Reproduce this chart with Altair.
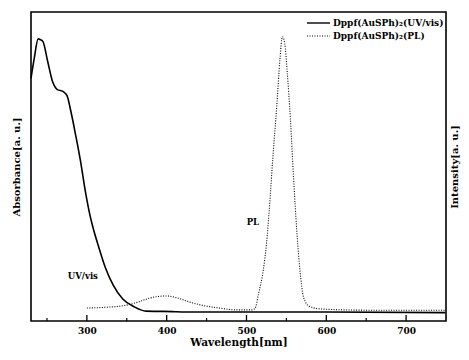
import altair as alt
import pandas as pd

# UV/vis absorbance (solid)
uv_wl = [230, 234, 239, 242, 245, 251, 257, 263, 270, 275, 280, 286, 292, 298, 304, 307,
         315, 323, 333, 345, 360, 374, 397, 437, 500, 600, 749]
uv_val = [0.785, 0.849, 0.913, 0.910, 0.904, 0.839, 0.775, 0.749, 0.743, 0.730, 0.678, 0.601,
          0.518, 0.421, 0.341, 0.309, 0.238, 0.174, 0.116, 0.071, 0.045, 0.032, 0.031, 0.029,
          0.029, 0.029, 0.027]

# PL intensity (dotted)
pl_wl = [300, 327, 347, 364, 376, 388, 399, 413, 429, 446, 466, 487, 507, 511, 515, 521, 525,
         529, 533, 538, 542, 545, 548, 551, 555, 559, 563, 567, 571.5, 578.5, 593, 650, 750]
pl_val = [0.042, 0.045, 0.050, 0.061, 0.072, 0.079, 0.081, 0.075, 0.061, 0.050, 0.042, 0.036,
          0.036, 0.042, 0.087, 0.164, 0.248, 0.376, 0.527, 0.698, 0.849, 0.920, 0.897, 0.807,
          0.656, 0.463, 0.293, 0.164, 0.077, 0.048, 0.039, 0.035, 0.035]

major_ticks = [300, 400, 500, 600, 700]
minor_ticks = [250, 350, 450, 550, 650]
legend_labels = ["Dppf(AuSPh)\u2082(UV/vis)", "Dppf(AuSPh)\u2082(PL)"]
annot_labels = ["UV/vis", "PL"]
annot_wl = [295, 508]
annot_val = [0.146, 0.320]

W, H = 415, 309
FONT = "DejaVu Serif"

uv = pd.DataFrame({"wl": uv_wl, "v": uv_val})
pl = pd.DataFrame({"wl": pl_wl, "v": pl_val})

xs = alt.Scale(domain=[230, 750], nice=False, zero=False)
ys = alt.Scale(domain=[0, 1], nice=False)

x_axis = alt.Axis(values=major_ticks, ticks=False, domain=False, grid=False, labelFont=FONT,
                  labelFontWeight="bold", labelFontSize=9, labelPadding=5, title="Wavelength[nm]",
                  titleFont=FONT, titleFontWeight="bold", titleFontSize=10.5, titlePadding=2,
                  labelColor="black", titleColor="black")

X = alt.X("wl:Q", scale=xs, axis=x_axis)

uv_line = alt.Chart(uv).mark_line(color="black", strokeWidth=1.6, interpolate="monotone").encode(
    x=X,
    y=alt.Y("v:Q", scale=ys, axis=alt.Axis(labels=False, ticks=False, domain=False, grid=False,
                                            title="Absorbance[a. u.]", titleFont=FONT,
                                            titleFontWeight="bold", titleFontSize=10,
                                            titlePadding=10, titleColor="black")),
)

pl_line = alt.Chart(pl).mark_line(color="black", strokeWidth=1.1, strokeDash=[1, 1.5],
                                  interpolate="monotone").encode(
    x=X,
    y=alt.Y("v:Q", scale=ys, axis=alt.Axis(orient="right", labels=False, ticks=False, domain=False,
                                            grid=False, title="Intensity[a. u.]", titleFont=FONT,
                                            titleFontWeight="bold", titleFontSize=10,
                                            titleAngle=270, titlePadding=13, titleColor="black")),
)

major = alt.Chart(pd.DataFrame({"wl": major_ticks})).mark_rule(color="black", strokeWidth=1.3).encode(
    x=X, y=alt.value(H), y2=alt.value(H - 6))
minor = alt.Chart(pd.DataFrame({"wl": minor_ticks})).mark_rule(color="black", strokeWidth=1.2).encode(
    x=X, y=alt.value(H), y2=alt.value(H - 3))

annot = alt.Chart(pd.DataFrame({"wl": annot_wl, "v": annot_val, "lab": annot_labels})).mark_text(
    font=FONT, fontWeight="bold", fontSize=8.5, color="black").encode(
    x=X, y=alt.Y("v:Q", scale=ys, axis=None), text="lab:N")

leg1_line = alt.Chart(pd.DataFrame({"a": [0]})).mark_rule(color="black", strokeWidth=1.4).encode(
    x=alt.value(276), x2=alt.value(299), y=alt.value(11))
leg2_line = alt.Chart(pd.DataFrame({"a": [0]})).mark_rule(color="black", strokeWidth=1, strokeDash=[1, 1.5]).encode(
    x=alt.value(276), x2=alt.value(299), y=alt.value(24))
leg1_text = alt.Chart(pd.DataFrame({"lab": [legend_labels[0]]})).mark_text(
    font=FONT, fontWeight="bold", fontSize=9, align="left", baseline="middle", color="black").encode(
    x=alt.value(302), y=alt.value(11), text="lab:N")
leg2_text = alt.Chart(pd.DataFrame({"lab": [legend_labels[1]]})).mark_text(
    font=FONT, fontWeight="bold", fontSize=9, align="left", baseline="middle", color="black").encode(
    x=alt.value(302), y=alt.value(24), text="lab:N")

chart = alt.layer(uv_line, pl_line, major, minor, annot, leg1_line, leg2_line, leg1_text, leg2_text).resolve_scale(
    y="independent"
).properties(
    width=W, height=H, autosize=alt.AutoSizeParams(type="none"), background="white",
    padding={"left": 23, "top": 4, "right": 15, "bottom": 27},
).configure_view(stroke="black", strokeWidth=1.6)

chart.save("out.html", embed_options={"renderer": "svg", "actions": False})
